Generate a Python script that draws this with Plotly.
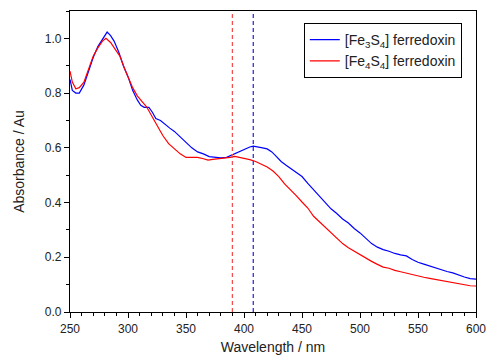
import plotly.graph_objects as go

wl_blue = [250, 252, 255, 258, 262, 266, 270, 274, 278, 282, 285, 288, 292, 296, 300, 304, 308, 311, 314, 318, 321, 324, 328, 332, 336, 340, 345, 350, 355, 360, 365, 370, 375, 380, 385, 390, 395, 400, 405, 408, 412, 416, 420, 424, 428, 432, 436, 440, 445, 450, 455, 460, 465, 470, 475, 480, 485, 490, 495, 500, 505, 510, 515, 520, 525, 530, 535, 540, 545, 550, 555, 560, 565, 570, 575, 580, 585, 590, 595, 600]
abs_blue = [0.85, 0.81, 0.80, 0.80, 0.83, 0.88, 0.93, 0.97, 0.995, 1.023, 1.01, 0.99, 0.95, 0.90, 0.86, 0.81, 0.775, 0.755, 0.748, 0.748, 0.73, 0.707, 0.70, 0.685, 0.672, 0.66, 0.64, 0.618, 0.60, 0.585, 0.578, 0.568, 0.565, 0.563, 0.565, 0.575, 0.585, 0.595, 0.603, 0.606, 0.604, 0.60, 0.596, 0.585, 0.568, 0.55, 0.537, 0.525, 0.513, 0.495, 0.47, 0.447, 0.425, 0.40, 0.377, 0.36, 0.34, 0.325, 0.305, 0.289, 0.27, 0.25, 0.237, 0.228, 0.222, 0.214, 0.209, 0.205, 0.192, 0.182, 0.175, 0.168, 0.162, 0.153, 0.148, 0.143, 0.135, 0.128, 0.122, 0.12]

wl_red = [250, 252, 255, 258, 262, 266, 270, 274, 278, 281, 285, 289, 293, 297, 300, 304, 308, 312, 316, 320, 325, 330, 335, 340, 345, 350, 355, 360, 365, 369, 373, 378, 383, 388, 392, 396, 400, 405, 410, 415, 420, 425, 430, 435, 440, 445, 450, 455, 460, 465, 470, 475, 480, 485, 490, 495, 500, 505, 510, 515, 520, 525, 530, 535, 540, 545, 550, 555, 560, 565, 570, 575, 580, 585, 590, 595, 600]
abs_red = [0.88, 0.84, 0.816, 0.82, 0.84, 0.89, 0.935, 0.965, 0.99, 1.0, 0.985, 0.96, 0.935, 0.89, 0.86, 0.82, 0.79, 0.77, 0.75, 0.72, 0.68, 0.645, 0.615, 0.595, 0.578, 0.565, 0.565, 0.565, 0.56, 0.555, 0.558, 0.56, 0.562, 0.565, 0.569, 0.566, 0.562, 0.557, 0.55, 0.54, 0.53, 0.515, 0.495, 0.468, 0.448, 0.425, 0.402, 0.38, 0.35, 0.33, 0.31, 0.293, 0.272, 0.25, 0.235, 0.222, 0.208, 0.196, 0.185, 0.174, 0.164, 0.16, 0.152, 0.147, 0.142, 0.135, 0.131, 0.127, 0.123, 0.119, 0.114, 0.11, 0.106, 0.102, 0.099, 0.096, 0.095]

series_names = ["[Fe<sub>3</sub>S<sub>4</sub>] ferredoxin", "[Fe<sub>4</sub>S<sub>4</sub>] ferredoxin"]
marker_wl = [390, 408]
marker_colors = ["#f05050", "#3030e0"]

fig = go.Figure()
fig.add_trace(go.Scatter(x=wl_blue, y=abs_blue, mode="lines", name=series_names[0],
                         line=dict(color="#0000ff", width=1.2)))
fig.add_trace(go.Scatter(x=wl_red, y=abs_red, mode="lines", name=series_names[1],
                         line=dict(color="#ff0000", width=1.2)))
for xv, c in zip(marker_wl, marker_colors):
    fig.add_shape(type="line", x0=xv, x1=xv, y0=0, y1=1, yref="paper", xref="x",
                  line=dict(color=c, width=1.3, dash="4px,3px"))

axis_common = dict(showline=True, linecolor="black", linewidth=1.2, mirror=True,
                   ticks="outside", ticklen=5, tickwidth=1, tickcolor="black",
                   showgrid=False, zeroline=False, automargin=False,
                   tickfont=dict(family="Liberation Sans, Arial", size=12, color="#222"))

fig.update_layout(
    width=487, height=358,
    margin=dict(l=70, r=11, t=11, b=46),
    plot_bgcolor="white", paper_bgcolor="white",
    font=dict(family="Liberation Sans, Arial", size=12, color="#222"),
    xaxis=dict(range=[250, 600], tickvals=[250, 300, 350, 400, 450, 500, 550, 600],
               minor=dict(dtick=10, ticks="outside", ticklen=3, tickcolor="black"),
               title=dict(text="Wavelength / nm", standoff=7, font=dict(size=14)),
               **axis_common),
    yaxis=dict(range=[0, 1.1], tickvals=[0, 0.2, 0.4, 0.6, 0.8, 1.0], tickformat=".1f",
               minor=dict(dtick=0.1, ticks="outside", ticklen=3, tickcolor="black"),
               title=dict(text="Absorbance / Au", standoff=16, font=dict(size=14)),
               **axis_common),
    legend=dict(x=0.965, y=0.96, xanchor="right", yanchor="top",
                bordercolor="black", borderwidth=1, bgcolor="white",
                font=dict(family="Liberation Sans, Arial", size=14, color="#222"),
                tracegroupgap=0, itemwidth=30),
    showlegend=True,
)

fig.write_html("out.html")
